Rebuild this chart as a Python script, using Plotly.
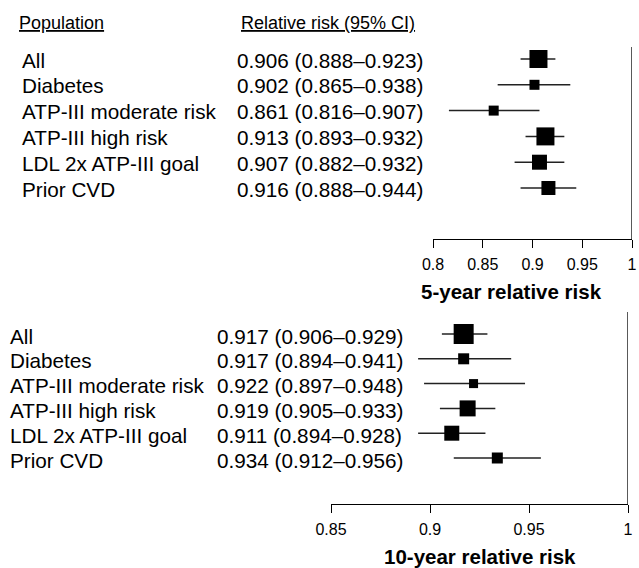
import plotly.graph_objects as go

# ---- data ----
populations = ["All", "Diabetes", "ATP-III moderate risk", "ATP-III high risk",
               "LDL 2x ATP-III goal", "Prior CVD"]

rr5 = [0.906, 0.902, 0.861, 0.913, 0.907, 0.916]
lo5 = [0.888, 0.865, 0.816, 0.893, 0.882, 0.888]
hi5 = [0.923, 0.938, 0.907, 0.932, 0.932, 0.944]
size5 = [18, 10, 10, 18, 15, 14]

rr10 = [0.917, 0.917, 0.922, 0.919, 0.911, 0.934]
lo10 = [0.906, 0.894, 0.897, 0.905, 0.894, 0.912]
hi10 = [0.929, 0.941, 0.948, 0.933, 0.928, 0.956]
size10 = [20, 11, 9, 16, 15, 11]

ticks5 = [0.8, 0.85, 0.9, 0.95, 1.0]
ticklabels5 = ["0.8", "0.85", "0.9", "0.95", "1"]
ticks10 = [0.85, 0.9, 0.95, 1.0]
ticklabels10 = ["0.85", "0.9", "0.95", "1"]

header_pop = "Population"
header_rr = "Relative risk (95% CI)"
title5 = "5-year relative risk"
title10 = "10-year relative risk"

W, H = 639, 568
FONT = "Liberation Sans, Arial, sans-serif"


def fx(p):
    return p / W


def fy(p):
    return 1 - p / H


def fmt(e, l, h):
    return f"{e:.3f} ({l:.3f}\u2013{h:.3f})"


fig = go.Figure()

for est, lo, hi, sz, xa, ya in [(rr5, lo5, hi5, size5, "x", "y"),
                                (rr10, lo10, hi10, size10, "x2", "y2")]:
    fig.add_trace(go.Scatter(
        x=est, y=populations, mode="markers", xaxis=xa, yaxis=ya,
        marker=dict(symbol="square", size=sz, color="black", opacity=1,
                    line=dict(width=0)),
        error_x=dict(type="data", symmetric=False,
                     array=[h - e for h, e in zip(hi, est)],
                     arrayminus=[e - l for e, l in zip(est, lo)],
                     width=0, thickness=1.5, color="#222"),
        showlegend=False, hoverinfo="skip"))

axis_common = dict(showline=True, linecolor="black", linewidth=1, ticks="outside",
                   ticklen=8, tickcolor="black", tickwidth=1, showgrid=False,
                   zeroline=False, ticklabelstandoff=3,
                   tickfont=dict(size=16, color="black", family=FONT))

fig.update_layout(
    width=W, height=H, margin=dict(l=0, r=0, t=0, b=0, autoexpand=False),
    paper_bgcolor="white", plot_bgcolor="white",
    font=dict(family=FONT, color="black"),
    xaxis=dict(domain=[fx(433), fx(632)], range=[0.8, 1.0], anchor="y",
               tickvals=ticks5, ticktext=ticklabels5, **axis_common),
    yaxis=dict(domain=[fy(239), fy(40)], type="category", categoryarray=populations,
               categoryorder="array", range=[(239 - 59) / 25.8, (40 - 59) / 25.8],
               visible=False, anchor="x"),
    xaxis2=dict(domain=[fx(331), fx(628)], range=[0.85, 1.0], anchor="y2",
                tickvals=ticks10, ticktext=ticklabels10, **axis_common),
    yaxis2=dict(domain=[fy(504), fy(300)], type="category", categoryarray=populations,
                categoryorder="array", range=[(504 - 334) / 24.8, (300 - 334) / 24.8],
                visible=False, anchor="x2"),
)

shapes = [
    dict(type="line", xref="x", yref="paper", x0=1, x1=1, y0=fy(239), y1=fy(47),
         line=dict(color="black", width=1.3)),
    dict(type="line", xref="x2", yref="paper", x0=1, x1=1, y0=fy(504), y1=fy(312),
         line=dict(color="black", width=1.3)),
]

ann = []
ann.append(dict(text=f"<u>{header_pop}</u>", x=fx(17), y=fy(23), xref="paper", yref="paper",
                xanchor="left", yanchor="middle", showarrow=False, font=dict(size=18)))
ann.append(dict(text=f"<u>{header_rr}</u>", x=fx(239), y=fy(23), xref="paper", yref="paper",
                xanchor="left", yanchor="middle", showarrow=False, font=dict(size=18)))

TS = 20.7
for i, p in enumerate(populations):
    ann.append(dict(text=p, x=fx(20), y=p, xref="paper", yref="y", xanchor="left",
                    yanchor="middle", showarrow=False, font=dict(size=TS), yshift=-1))
    ann.append(dict(text=fmt(rr5[i], lo5[i], hi5[i]), x=fx(235), y=p, xref="paper",
                    yref="y", xanchor="left", yanchor="middle", showarrow=False,
                    font=dict(size=TS), yshift=-1))
    ann.append(dict(text=p, x=fx(8), y=p, xref="paper", yref="y2", xanchor="left",
                    yanchor="middle", showarrow=False, font=dict(size=TS), yshift=-2))
    ann.append(dict(text=fmt(rr10[i], lo10[i], hi10[i]), x=fx(215), y=p, xref="paper",
                    yref="y2", xanchor="left", yanchor="middle", showarrow=False,
                    font=dict(size=TS), yshift=-2))

ann.append(dict(text=f"<b>{title5}</b>", x=fx(511), y=fy(291), xref="paper", yref="paper",
                xanchor="center", yanchor="middle", showarrow=False, font=dict(size=20.5)))
ann.append(dict(text=f"<b>{title10}</b>", x=fx(480), y=fy(556), xref="paper", yref="paper",
                xanchor="center", yanchor="middle", showarrow=False, font=dict(size=20.5)))

fig.update_layout(shapes=shapes, annotations=ann)
fig.write_html("out.html", config={"displayModeBar": False},
               post_script="document.body.style.margin='0';")
